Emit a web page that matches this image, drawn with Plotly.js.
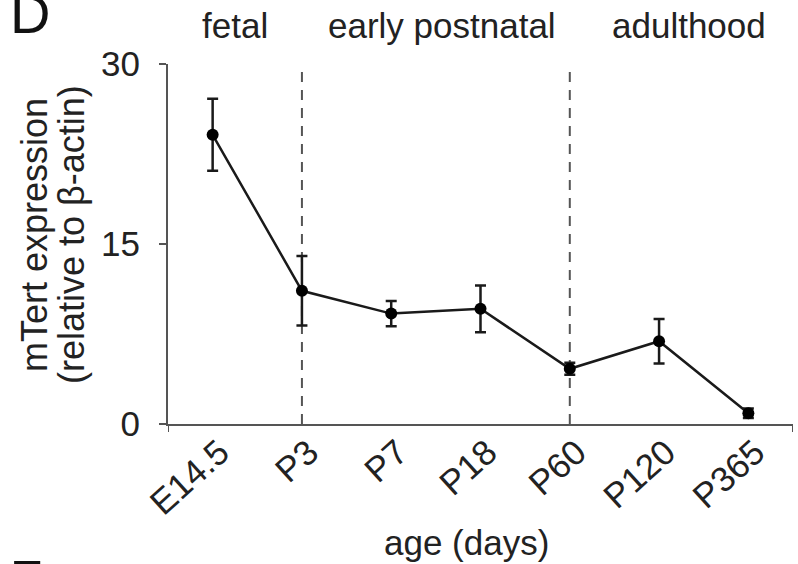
<!DOCTYPE html>
<html>
<head>
<meta charset="utf-8">
<script src="https://cdn.plot.ly/plotly-3.0.1.min.js"></script>
<style>html,body{margin:0;padding:0;background:#fff;}#chart{width:798px;height:564px;}</style>
</head>
<body>
<div id="chart"></div>
<script>
// Data
const categories = ['E14.5', 'P3', 'P7', 'P18', 'P60', 'P120', 'P365'];
const expression = [24.1, 11.1, 9.2, 9.6, 4.6, 6.9, 0.9];
const errorSE = [3.0, 2.9, 1.05, 1.95, 0.5, 1.85, 0.4];
const yTicks = [0, 15, 30];
const stageLabels = ['fetal', 'early postnatal', 'adulthood'];
const stagePositions = [0.25, 2.57, 5.33];
const stageBoundaries = ['P3', 'P60'];
const yTitleLines = ['mTert expression', '(relative to β-actin)'];
const xTitle = 'age (days)';

const FONT = 'Liberation Sans, Arial, Helvetica, sans-serif';
const TXT = '#222';
const AX = '#555';
const FS = 35;

const xIdx = categories.map((c, i) => i);

const trace = {
  x: xIdx,
  y: expression,
  type: 'scatter',
  mode: 'lines+markers',
  line: {color: '#1a1a1a', width: 2.5},
  marker: {color: '#000', size: 12, symbol: 'circle'},
  error_y: {type: 'data', array: errorSE, visible: true, color: '#1a1a1a', thickness: 2.5, width: 5.5},
  showlegend: false,
  hoverinfo: 'skip'
};

const shapes = stageBoundaries.map(c => ({
  type: 'line', xref: 'x', yref: 'y',
  x0: categories.indexOf(c), x1: categories.indexOf(c),
  y0: 0, y1: 29.6,
  line: {color: AX, width: 2, dash: '10px,8px'},
  layer: 'below'
}));
// small end ticks of x axis
shapes.push({type: 'line', xref: 'x', yref: 'paper', x0: -0.5, x1: -0.5, y0: 0, y1: -0.022, line: {color: AX, width: 2}});
shapes.push({type: 'line', xref: 'x', yref: 'paper', x0: 6.5, x1: 6.5, y0: 0, y1: -0.022, line: {color: AX, width: 2}});

const annotations = stageLabels.map((t, i) => ({
  text: t, xref: 'x', yref: 'paper', x: stagePositions[i], y: 1.108,
  xanchor: 'center', yanchor: 'middle', showarrow: false,
  font: {family: FONT, size: FS, color: TXT}
}));
// y-axis title (two lines, tight spacing)
[-0.2144, -0.1552].forEach((px, i) => annotations.push({
  text: yTitleLines[i], xref: 'paper', yref: 'paper', x: px, y: 0.525,
  xanchor: 'center', yanchor: 'middle', textangle: -90, showarrow: false,
  font: {family: FONT, size: 36, color: TXT}
}));
// x-axis title
annotations.push({text: xTitle, xref: 'paper', yref: 'paper', x: 0.478, y: -0.33,
  xanchor: 'center', yanchor: 'middle', showarrow: false, font: {family: FONT, size: FS, color: TXT}});
annotations.push({text: 'D', xref: 'paper', yref: 'paper', x: -0.256, y: 1.14, xanchor: 'left', yanchor: 'middle',
  showarrow: false, font: {family: FONT, size: 56, color: '#111'}});
annotations.push({text: 'E', xref: 'paper', yref: 'paper', x: -0.256, y: -0.43, xanchor: 'left', yanchor: 'middle',
  showarrow: false, font: {family: FONT, size: 50, color: '#111'}});

const layout = {
  width: 798, height: 564,
  margin: {l: 168, r: 5, t: 64, b: 140, pad: 0},
  paper_bgcolor: '#fff', plot_bgcolor: '#fff',
  font: {family: FONT, color: TXT, size: FS},
  xaxis: {
    range: [-0.5, 6.5],
    tickmode: 'array', tickvals: xIdx, ticktext: categories,
    tickangle: -42, ticks: '', showgrid: false, zeroline: false,
    showline: true, linecolor: AX, linewidth: 2,
    ticklabelshift: 7, ticklabelstandoff: -8,
    tickfont: {family: FONT, size: FS, color: TXT}
  },
  yaxis: {
    range: [0, 30], tickmode: 'array', tickvals: yTicks, ticktext: yTicks.map(String),
    ticks: 'outside', ticklen: 7, tickwidth: 2, tickcolor: AX,
    showgrid: false, zeroline: false, showline: true, linecolor: AX, linewidth: 2,
    ticklabelstandoff: 12,
    tickfont: {family: FONT, size: FS, color: TXT}
  },
  shapes: shapes,
  annotations: annotations
};

Plotly.newPlot('chart', [trace], layout, {staticPlot: true, displayModeBar: false});
</script>
</body>
</html>
